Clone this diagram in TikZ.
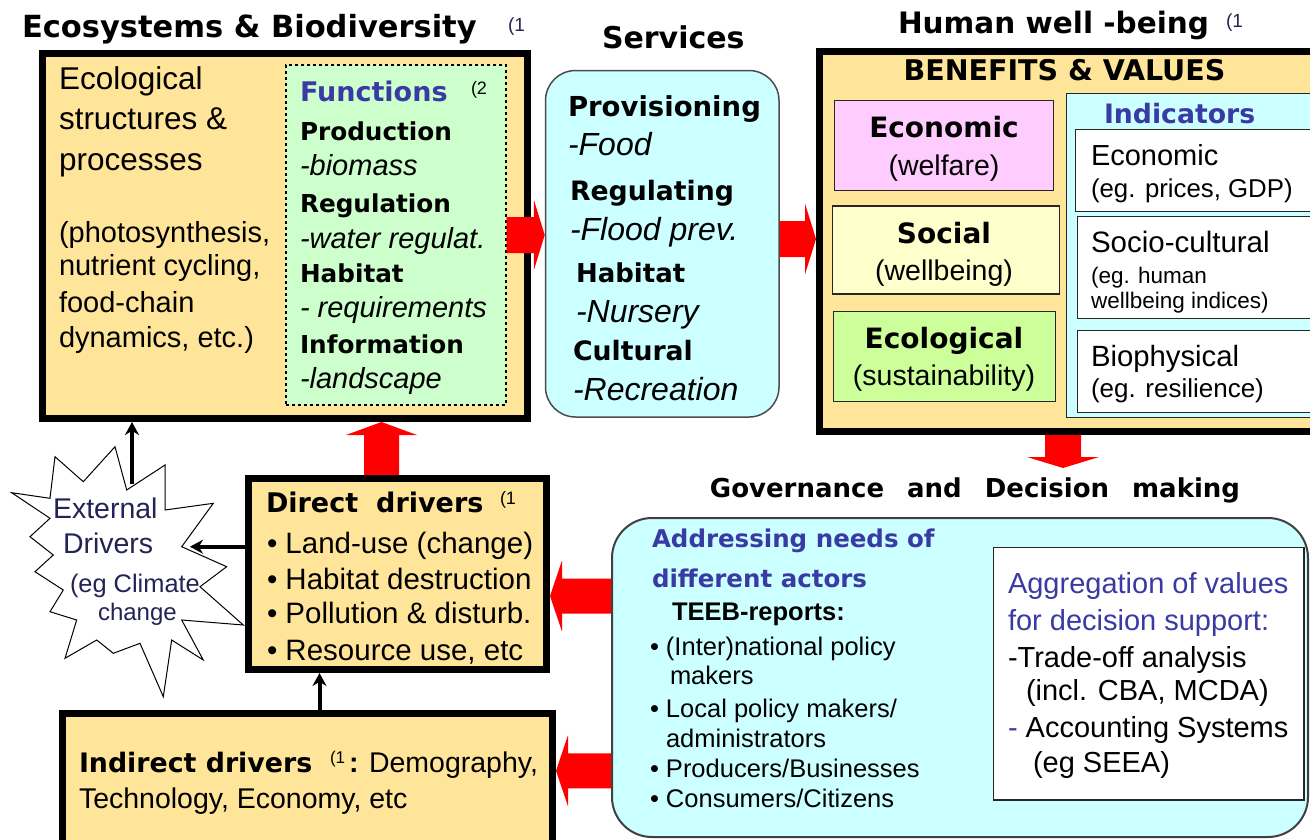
\documentclass[tikz,border=0pt]{standalone}
\usepackage{fontspec}
\setmainfont{Liberation Sans}
\newfontfamily\hd{DejaVu Sans}
\usetikzlibrary{arrows.meta,calc}
\newcommand\fsz[1]{\fontsize{#1}{#1}\selectfont}
\definecolor{yelF}{RGB}{255,229,153}
\definecolor{grnF}{RGB}{204,255,204}
\definecolor{cyanF}{RGB}{204,255,255}
\definecolor{pinkF}{RGB}{255,204,255}
\definecolor{lyelF}{RGB}{255,255,204}
\definecolor{lgrnF}{RGB}{204,255,153}
\definecolor{blueT}{RGB}{58,58,165}
\definecolor{navyT}{RGB}{35,35,85}
\definecolor{redA}{RGB}{255,0,0}
% block arrows between named anchors
\newcommand\redR[2]{\fill[redA] let \p1=#1, \p2=#2 in (\x1,\y1+18pt) -- (\x2-11pt,\y1+18pt) -- (\x2-11pt,\y1+35.5pt) -- (\x2,\y1) -- (\x2-11pt,\y1-35.5pt) -- (\x2-11pt,\y1-18pt) -- (\x1,\y1-18pt) -- cycle;}
\newcommand\redL[2]{\fill[redA] let \p1=#1, \p2=#2 in (\x1,\y1+17.5pt) -- (\x2+12pt,\y1+17.5pt) -- (\x2+12pt,\y1+35.5pt) -- (\x2,\y1) -- (\x2+12pt,\y1-35.5pt) -- (\x2+12pt,\y1-17.5pt) -- (\x1,\y1-17.5pt) -- cycle;}
\newcommand\redU[2]{\fill[redA] let \p1=#1, \p2=#2 in (\x1-17.5pt,\y1) -- (\x1-17.5pt,\y2-13pt) -- (\x1-35.5pt,\y2-13pt) -- (\x1,\y2) -- (\x1+35.5pt,\y2-13pt) -- (\x1+17.5pt,\y2-13pt) -- (\x1+17.5pt,\y1) -- cycle;}
\newcommand\redD[2]{\fill[redA] let \p1=#1, \p2=#2 in (\x1-18pt,\y1) -- (\x1-18pt,\y2+11pt) -- (\x1-36pt,\y2+11pt) -- (\x1,\y2) -- (\x1+36pt,\y2+11pt) -- (\x1+18pt,\y2+11pt) -- (\x1+18pt,\y1) -- cycle;}
\begin{document}
\begin{tikzpicture}[x=1pt,y=-1pt,
  tx/.style={anchor=base west, inner sep=0pt, outer sep=0pt},
  txc/.style={anchor=base, inner sep=0pt, outer sep=0pt},
  thickbox/.style={draw=black, line width=7pt, fill=yelF, inner sep=0pt},
  thinbox/.style={draw=black!85, line width=1.5pt, inner sep=0pt},
  blk/.style={draw=black, line width=4pt, -{Stealth[length=13pt,width=14pt]}},
  hdb/.style={font=\hd\bfseries\fsz{#1}},
  rgf/.style={font=\fsz{#1}},
  itf/.style={font=\itshape\fsz{#1}},
  bdf/.style={font=\bfseries\fsz{#1}},
]
\useasboundingbox (0,0) rectangle (1310,839);
\clip (0,0) rectangle (1310,839);
\fill[white] (0,0) rectangle (1310,839);

% ---------- boxes ----------
\node[thickbox, minimum width=484.5pt, minimum height=365pt] (eco) at (284.75,236) {};
\node[draw=black, dashed, line width=1.2pt, fill=grnF, inner sep=0pt, minimum width=220pt, minimum height=340pt] (fun) at (396,235) {};
\node[draw=black!70, line width=1.5pt, fill=cyanF, rounded corners=30pt, inner sep=0pt, minimum width=233.5pt, minimum height=346.5pt] (serv) at (662.25,243.75) {};
\node[thickbox, minimum width=510.5pt, minimum height=380pt] (hwb) at (1074.75,241.5) {};
\node[thinbox, fill=pinkF, minimum width=219pt, minimum height=90pt] (econ) at (944,145.5) {};
\node[thinbox, fill=lyelF, minimum width=227pt, minimum height=88pt] (soc) at (946,250) {};
\node[thinbox, fill=lgrnF, minimum width=222pt, minimum height=90pt] (ecol) at (944.5,356.5) {};
\node[thinbox, fill=cyanF, minimum width=263.5pt, minimum height=324pt] (indc) at (1198.25,255.5) {};
\node[thinbox, fill=white, minimum width=254.5pt, minimum height=82pt] (wa) at (1202.75,170.5) {};
\node[thinbox, fill=white, minimum width=252.5pt, minimum height=102pt] (wb) at (1203.75,267.5) {};
\node[thinbox, fill=white, minimum width=252.5pt, minimum height=82pt] (wc) at (1203.75,371.5) {};
\node[thickbox, minimum width=298pt, minimum height=191pt] (dd) at (397.5,574) {};
\node[thickbox, minimum width=490pt, minimum height=156.5pt] (indr) at (307.5,791.75) {};
\node[draw=black!75, line width=2pt, fill=cyanF, rounded corners=40pt, inner sep=0pt, minimum width=696pt, minimum height=319pt] (gov) at (960,677.5) {};
\node[thinbox, fill=white, minimum width=310.5pt, minimum height=252.5pt] (agg) at (1148.75,673.75) {};

% starburst (external drivers)
\draw[fill=white, line width=1pt, line join=miter]
 (11.7,492.7) -- (50,498.3) -- (55,456.7) -- (83.3,481.7) -- (115,446.7) -- (126.7,490)
 -- (165,465) -- (165,510) -- (213.3,503.3) -- (181.7,546.7) -- (226.7,566.7) -- (200,586.7)
 -- (243.3,625) -- (181.7,620) -- (203.3,660) -- (171.7,640) -- (163.3,696.7) -- (140,643.3)
 -- (113.3,653.3) -- (96.7,640) -- (65,658.3) -- (76.7,620) -- (50,611.7) -- (63.3,590)
 -- (35,571.7) -- (53.3,555) -- (30,536.7) -- (50,518.3) -- cycle;

% ---------- connectors ----------
\coordinate (a2) at ([yshift=-4pt]fun.east);
\coordinate (govtip) at (1063,468);
\coordinate (a5) at ([yshift=-22pt]dd.east);
\coordinate (a6) at ([yshift=21pt]indr.east);
\coordinate (extTop) at (132,484);
\coordinate (extR) at (190,546.7);
\redR{(fun.east)}{(serv.west |- fun.east)}
\redR{(serv.east |- a2)}{(hwb.west |- a2)}
\redD{(hwb.south -| govtip)}{(govtip)}
\redU{([xshift=-16pt]dd.north)}{([xshift=-16pt]dd.north |- eco.south)}
\redL{(gov.west |- a5)}{(a5)}
\redL{(gov.west |- a6)}{(a6)}
\draw[blk] (extTop) -- (extTop |- eco.south);
\draw[blk] (dd.west |- extR) -- (extR);
\draw[blk] ([xshift=12pt]indr.north) -- ([xshift=12pt]indr.north |- dd.south);

% ---------- titles ----------
\node[tx, hdb=30.5] (ttl1) at (22,37) {Ecosystems \& Biodiversity};
\node[tx, rgf=19, text=navyT] (ttl1n) at (508,31) {(1};
\node[tx, hdb=30] (ttl2) at (602,48) {Services};
\node[tx, hdb=29.5] (ttl3) at (898,33) {Human well -being};
\node[tx, rgf=19, text=navyT] (ttl3n) at (1226,27) {(1};
\node[txc, hdb=26] (ttl4) at (975,497) {Governance\hspace{23pt}and\hspace{23pt}Decision\hspace{23pt}making};

% ---------- ecosystems box ----------
\node[tx, rgf=31.5] (e1) at (59,89) {Ecological};
\node[tx, rgf=31.5] (e2) at (59,129) {structures \&};
\node[tx, rgf=31.5] (e3) at (59,170) {processes};
\node[tx, rgf=29] (e4) at (59,242) {(photosynthesis,};
\node[tx, rgf=29] (e5) at (59,275) {nutrient cycling,};
\node[tx, rgf=29] (e6) at (59,312) {food-chain};
\node[tx, rgf=29] (e7) at (59,347) {dynamics, etc.)};

\node[tx, hdb=27, text=blueT] (f0) at (300,101) {Functions};
\node[tx, rgf=18] (f0n) at (471,94) {(2};
\node[tx, hdb=24.7] (f1) at (300,140) {Production};
\node[tx, itf=29] (f2) at (300,175) {-biomass};
\node[tx, hdb=24.7] (f3) at (300,212) {Regulation};
\node[tx, itf=29] (f4) at (300,248) {-water regulat.};
\node[tx, hdb=24.7] (f5) at (300,282) {Habitat};
\node[tx, itf=29] (f6) at (300,317) {- requirements};
\node[tx, hdb=24.7] (f7) at (300,353) {Information};
\node[tx, itf=29] (f8) at (300,388) {-landscape};

% ---------- services ----------
\node[tx, hdb=27.5] (s1) at (568,116) {Provisioning};
\node[tx, itf=32] (s2) at (568,155) {-Food};
\node[tx, hdb=26.7] (s3) at (570,200) {Regulating};
\node[tx, itf=32] (s4) at (570,240) {-Flood prev.};
\node[tx, hdb=26] (s5) at (576,282) {Habitat};
\node[tx, itf=32] (s6) at (576,322) {-Nursery};
\node[tx, hdb=26.7] (s7) at (573,360) {Cultural};
\node[tx, itf=32] (s8) at (573,400) {-Recreation};

% ---------- human well-being ----------
\node[txc, hdb=28.5] (h0) at (1064.5,80) {BENEFITS \& VALUES};
\node[txc, hdb=28] (h1) at (944,137) {Economic};
\node[txc, rgf=28.5] (h2) at (944,175) {(welfare)};
\node[txc, hdb=28] (h3) at (944,243) {Social};
\node[txc, rgf=28.5] (h4) at (944,280) {(wellbeing)};
\node[txc, hdb=28] (h5) at (944,348) {Ecological};
\node[txc, rgf=28.5] (h6) at (944,385) {(sustainability)};
\node[tx, hdb=26.7, text=blueT] (i0) at (1104,123) {Indicators};
\node[tx, rgf=29] (i1) at (1091,165) {Economic};
\node[tx, rgf=25.8] (i2) at (1091,197) {(eg. prices, GDP)};
\node[tx, rgf=29.5] (i3) at (1091,252) {Socio-cultural};
\node[tx, rgf=22.5] (i4) at (1091,283) {(eg. human};
\node[tx, rgf=22.5] (i5) at (1091,308) {wellbeing indices)};
\node[tx, rgf=29.3] (i6) at (1091,366) {Biophysical};
\node[tx, rgf=26] (i7) at (1091,397) {(eg. resilience)};

% ---------- governance ----------
\node[tx, hdb=24.5, text=blueT] (g1) at (652,547) {Addressing needs of};
\node[tx, hdb=24.5, text=blueT] (g2) at (652,587) {different actors};
\node[tx, bdf=25.5] (g3) at (672,620) {TEEB-reports:};
\node[tx, rgf=25.5] (g4) at (650,655) {• (Inter)national policy};
\node[tx, rgf=25.5] (g5) at (670,684) {makers};
\node[tx, rgf=25.5] (g6) at (650,717) {• Local policy makers/};
\node[tx, rgf=25.5] (g7) at (666,747) {administrators};
\node[tx, rgf=25.5] (g8) at (650,777) {• Producers/Businesses};
\node[tx, rgf=25.5] (g9) at (650,807) {• Consumers/Citizens};
\node[tx, rgf=29, text=blueT] (k1) at (1008,593) {Aggregation of values};
\node[tx, rgf=29, text=blueT] (k2) at (1008,630) {for decision support:};
\node[tx, rgf=29] (k3) at (1008,667) {-Trade-off analysis};
\node[tx, rgf=29] (k4) at (1026,700) {(incl. CBA, MCDA)};
\node[tx, rgf=29] (k5) at (1008,737) {{\color{blueT}-} Accounting Systems};
\node[tx, rgf=29] (k6) at (1033,772) {(eg SEEA)};

% ---------- drivers ----------
\node[tx, hdb=27] (d0) at (266,512) {Direct\hspace{18pt}drivers};
\node[tx, rgf=18] (d0n) at (500,504) {(1};
\node[tx, rgf=29.5] (d1) at (267,553) {• Land-use (change)};
\node[tx, rgf=29.5] (d2) at (267,589) {• Habitat destruction};
\node[tx, rgf=29.5] (d3) at (267,623) {• Pollution \& disturb.};
\node[tx, rgf=29.5] (d4) at (267,660) {• Resource use, etc};

\node[tx, hdb=26.8] (n0) at (79,772) {Indirect drivers};
\node[tx, rgf=17] (n0n) at (330,763) {(1};
\node[tx, rgf=28.5] (n1) at (349,772) {{\bfseries :} Demography,};
\node[tx, rgf=28.5] (n2) at (79,808) {Technology, Economy, etc};

\node[tx, rgf=28.5, text=navyT] (x1) at (53,518) {External};
\node[tx, rgf=28.5, text=navyT] (x2) at (63,553) {Drivers};
\node[tx, rgf=25.4, text=navyT] (x3) at (70,592) {(eg Climate};
\node[tx, rgf=24, text=navyT] (x4) at (98,620) {change};
\end{tikzpicture}
\end{document}
